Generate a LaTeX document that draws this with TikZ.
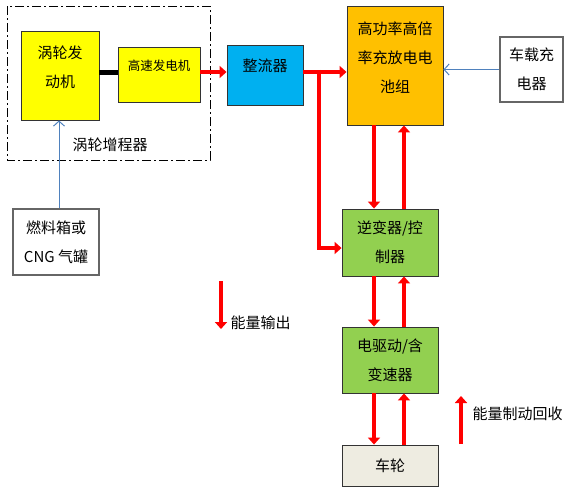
\documentclass[tikz,border=0pt]{standalone}
\usepackage{fontspec}
\setmainfont{Noto Sans CJK SC}
\usetikzlibrary{arrows.meta}
\definecolor{engyellow}{HTML}{FFFF00}
\definecolor{rectblue}{HTML}{00B0F0}
\definecolor{battorange}{HTML}{FFC000}
\definecolor{drivegreen}{HTML}{92D050}
\definecolor{wheelgray}{HTML}{EEECE1}
\definecolor{feedblue}{HTML}{4F81BD}
\begin{document}
\begin{tikzpicture}[x=1pt, y=-1pt,
    box/.style={draw=black!80, line width=0.9pt, inner sep=0pt},
    plainbox/.style={draw=black!60, line width=1.3pt, fill=white, inner sep=0pt},
    txt/.style={align=center, font=\fontsize{15}{29}\selectfont},
    power/.style={red, line width=4.5pt, -{Triangle[length=7pt,width=12pt]}},
    feed/.style={feedblue, line width=1pt, -{Straight Barb[length=5pt,width=11pt]}}]
  \useasboundingbox (0,0) rectangle (586,491);

  % turbine range extender
  \draw[line width=1pt, dash pattern=on 9pt off 3pt on 2pt off 3pt] (7,6) rectangle (210,160);
  \node[txt] (extlbl) at (110,145) {涡轮增程器};
  \node[box, fill=engyellow, minimum width=78pt, minimum height=89pt] (engine) at (60,75.5) {};
  \node[txt] (engine-t) at ([yshift=8pt]engine.center) {涡轮发\\动机};
  \node[box, fill=engyellow, minimum width=82pt, minimum height=55pt] (gen) at (159,74.5) {};
  \node[txt, font=\fontsize{12.5}{20}\selectfont] (gen-t) at ([yshift=9pt]gen.center) {高速发电机};

  % power path
  \node[box, fill=rectblue, minimum width=76pt, minimum height=60pt] (rect) at (265,75) {};
  \node[txt] (rect-t) at ([yshift=9pt]rect.center) {整流器};
  \node[box, fill=battorange, minimum width=96pt, minimum height=119pt] (batt) at (395,65.5) {};
  \node[txt] (batt-t) at ([yshift=8pt]batt.center) {高功率高倍\\率充放电电\\池组};
  \node[plainbox, minimum width=63pt, minimum height=65pt, txt] (charger) at (531.5,69.5) {车载充\\电器};
  \node[plainbox, minimum width=86pt, minimum height=66pt, txt] (fuel) at (56,242) {燃料箱或\\CNG 气罐};
  \node[box, fill=drivegreen, minimum width=96pt, minimum height=67pt, txt] (inv) at (390,242.5) {逆变器/控\\制器};
  \node[box, fill=drivegreen, minimum width=96pt, minimum height=66pt, txt] (motor) at (390,360) {电驱动/含\\变速器};
  \node[box, fill=wheelgray, minimum width=96pt, minimum height=41pt, txt] (wheel) at (390,465.5) {车轮};

  % connectors
  \draw[line width=5pt] (engine.east |- 0,72) -- (gen.west |- 0,72);
  \draw[power] (gen.east |- 0,72) -- (rect.west |- 0,72);
  \draw[power] (rect.east |- 0,72) -- (batt.west |- 0,72);
  \coordinate (split) at (319,69.8);
  \draw[power] (split) -- (split |- 0,248) -- (inv.west |- 0,248);
  \draw[power] (batt.south -| 374,0) -- (inv.north -| 374,0);
  \draw[power] (inv.north -| 404,0) -- (batt.south -| 404,0);
  \draw[power] (inv.south -| 374,0) -- (motor.north -| 374,0);
  \draw[power] (motor.north -| 404,0) -- (inv.south -| 404,0);
  \draw[power] (motor.south -| 374,0) -- (wheel.north -| 374,0);
  \draw[power] (wheel.north -| 404,0) -- (motor.south -| 404,0);
  \draw[feed] (fuel.north -| 59,0) -- (engine.south -| 59,0);
  \draw[feed] (charger.west) -- (batt.east |- charger.west);

  % legend
  \coordinate (out-a) at (221,281);
  \coordinate (out-b) at (221,329);
  \draw[power] (out-a) -- (out-b);
  \node[txt, anchor=west] (outlbl) at (227,323) {能量输出};
  \coordinate (back-a) at (461,444);
  \coordinate (back-b) at (461,396);
  \draw[power] (back-a) -- (back-b);
  \node[txt, anchor=west] (backlbl) at (469,414) {能量制动回收};
\end{tikzpicture}
\end{document}
